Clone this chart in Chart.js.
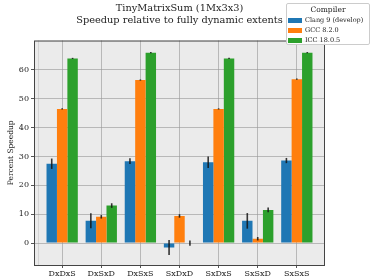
<!DOCTYPE html>
<html>
<head>
<meta charset="utf-8">
<script src="https://cdn.jsdelivr.net/npm/chart.js@4"></script>
<style>
  body { margin: 0; background: #fff; }
  #wrap { position: relative; width: 374px; height: 280px; }
  #legend {
    position: absolute; left: 286px; top: 3px; width: 82px; height: 40px;
    border: 1px solid #ccc; border-radius: 2px; background: rgba(255,255,255,0.9);
    font-family: "DejaVu Serif", serif; font-size: 6.5px; color: #222;
  }
  #legend .ttl { text-align: center; font-size: 7.5px; margin-top: 1px; height: 10px; line-height: 10px; }
  #legend .row { height: 10px; line-height: 10px; white-space: nowrap; }
  #legend .sw { display: inline-block; width: 14px; height: 5px; margin: 0 3px 0 1px; vertical-align: middle; }
</style>
</head>
<body>
<div id="wrap">
  <canvas id="grafica" width="374" height="280"></canvas>
  <div id="legend"></div>
</div>
<script>
var categorias = ["DxDxS", "DxSxD", "DxSxS", "SxDxD", "SxDxS", "SxSxD", "SxSxS"];
var compiladores = ["Clang 9 (develop)", "GCC 8.2.0", "ICC 18.0.5"];
var colores = ["#1f77b4", "#ff7f0e", "#2ca02c"];

var clang = [27.5, 7.7, 28.4, -1.5, 28.0, 7.7, 28.6];
var gcc = [46.5, 9.1, 56.5, 9.4, 46.5, 1.5, 56.8];
var icc = [64.0, 13.0, 66.0, 0.0, 64.0, 11.5, 66.0];

var errClang = [1.8, 2.6, 1.0, 2.6, 2.0, 2.7, 0.9];
var errGcc = [0.2, 0.6, 0.2, 0.6, 0.2, 0.6, 0.2];
var errIcc = [0.2, 0.8, 0.2, 0.9, 0.2, 0.8, 0.2];

var yTicks = [0, 10, 20, 30, 40, 50, 60];

var series = [clang, gcc, icc];
var errores = [errClang, errGcc, errIcc];

var colorRejilla = 'rgba(150,150,150,0.6)';

// fondo gris del area de la grafica
var fondo = {
  id: 'fondo',
  beforeDraw: function(chart){
    var a = chart.chartArea, c = chart.ctx;
    c.save();
    c.fillStyle = '#ebebeb';
    c.fillRect(a.left, a.top, a.right - a.left, a.bottom - a.top);
    c.restore();
  },
  afterDraw: function(chart){
    var a = chart.chartArea, c = chart.ctx;
    c.save();
    c.strokeStyle = '#444';
    c.lineWidth = 1;
    c.strokeRect(a.left + 0.5, a.top + 0.5, a.right - a.left - 1, a.bottom - a.top);
    c.restore();
  }
};

// barras de error
var barrasError = {
  id: 'barrasError',
  afterDraw: function(chart){
    var c = chart.ctx, y = chart.scales.y;
    c.save();
    c.strokeStyle = 'rgba(20,20,20,0.85)';
    c.lineWidth = 1.6;
    chart.data.datasets.forEach(function(ds, d){
      var meta = chart.getDatasetMeta(d);
      meta.data.forEach(function(bar, i){
        var v = series[d][i], e = errores[d][i];
        c.beginPath();
        c.moveTo(bar.x, y.getPixelForValue(v - e));
        c.lineTo(bar.x, y.getPixelForValue(v + e));
        c.stroke();
      });
    });
    c.restore();
  }
};

var datasets = series.map(function(s, d){
  return {
    label: compiladores[d],
    data: s.map(function(v, i){ return {x: i, y: v}; }),
    backgroundColor: colores[d],
    borderWidth: 0,
    categoryPercentage: 0.8,
    barPercentage: 1.0
  };
});

var serif = '"DejaVu Serif", serif';

var ctx = document.getElementById("grafica").getContext("2d");
var myBarChart = new Chart(ctx, {
  type: 'bar',
  data: { datasets: datasets },
  plugins: [fondo, barrasError],
  options: {
    responsive: false,
    animation: false,
    layout: { padding: { left: 0, right: 49, top: 0, bottom: 0 } },
    plugins: {
      legend: { display: false },
      tooltip: { enabled: false },
      title: {
        display: true,
        fullSize: false,
        text: ["TinyMatrixSum (1Mx3x3)", "Speedup relative to fully dynamic extents"],
        color: '#222',
        font: { family: serif, size: 9.8, weight: 'normal', lineHeight: 1.2 },
        padding: { top: 3, bottom: 14 }
      }
    },
    scales: {
      x: {
        type: 'linear',
        offset: false,
        z: 1,
        min: -0.72,
        max: 6.72,
        afterBuildTicks: function(scale){
          scale.ticks = categorias.map(function(n, i){ return {value: i}; });
        },
        afterFit: function(scale){ scale.height = 15; },
        ticks: {
          autoSkip: false,
          maxRotation: 0,
          padding: 1,
          color: '#222',
          font: { family: serif, size: 8 },
          callback: function(v){ return categorias[v]; }
        },
        grid: {
          offset: false,
          color: colorRejilla,
          lineWidth: 1,
          tickLength: 3,
          tickColor: '#555'
        },
        border: { display: false }
      },
      // eje extra solo para la linea de la izquierda
      x2: {
        type: 'linear',
        position: 'bottom',
        offset: false,
        min: -0.72,
        max: 6.72,
        afterBuildTicks: function(scale){ scale.ticks = [{value: -0.6}]; },
        afterFit: function(scale){ scale.height = 0; },
        ticks: { display: false },
        grid: {
          offset: false,
          color: '#d4d4d4',
          lineWidth: 1,
          tickLength: 3,
          tickColor: '#555'
        },
        border: { display: false }
      },
      y: {
        z: 1,
        min: -7.6,
        max: 70.2,
        afterBuildTicks: function(scale){
          scale.ticks = yTicks.map(function(v){ return {value: v}; });
        },
        afterFit: function(scale){ scale.width = 34; },
        ticks: {
          padding: 2,
          color: '#222',
          font: { family: serif, size: 8 }
        },
        grid: {
          color: colorRejilla,
          lineWidth: 1,
          tickLength: 3,
          tickColor: '#555'
        },
        border: { display: false },
        title: {
          display: true,
          text: 'Percent Speedup',
          color: '#222',
          font: { family: serif, size: 7.5 },
          padding: { top: 7, bottom: 0 }
        }
      }
    }
  }
});

// leyenda
var html = '<div class="ttl">Compiler</div>';
compiladores.forEach(function(n, i){
  html += '<div class="row"><span class="sw" style="background:' + colores[i] + '"></span>' + n + '</div>';
});
document.getElementById('legend').innerHTML = html;
</script>
</body>
</html>
